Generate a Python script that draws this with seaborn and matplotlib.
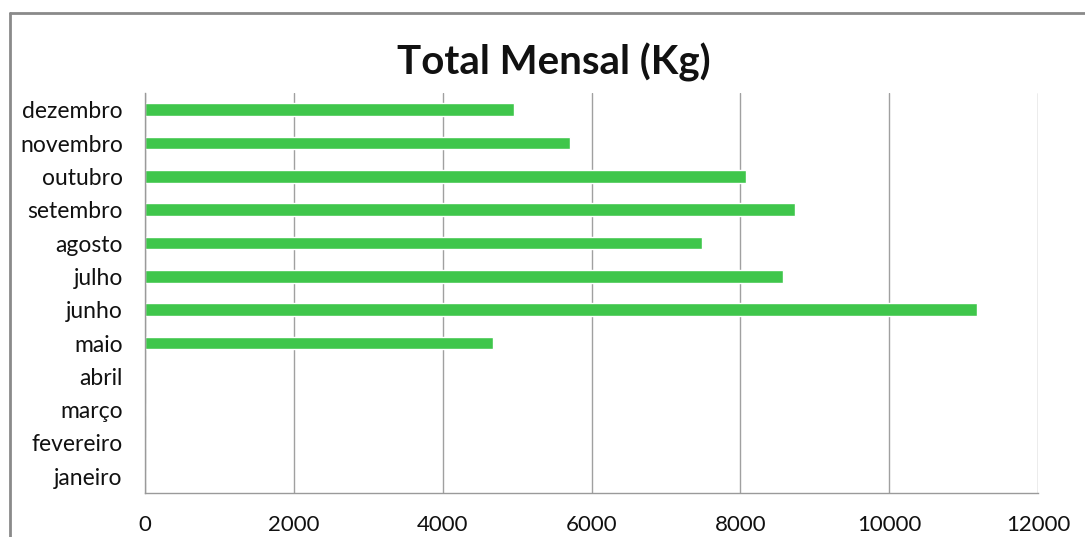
import matplotlib
matplotlib.use("Agg")
import matplotlib.pyplot as plt
import seaborn as sns
import pandas as pd
from matplotlib.ticker import FixedLocator
from matplotlib.lines import Line2D

months = ["janeiro", "fevereiro", "março", "abril", "maio", "junho",
          "julho", "agosto", "setembro", "outubro", "novembro", "dezembro"]
totals = [0, 0, 0, 0, 4670, 11180, 8580, 7480, 8740, 8080, 5710, 4960]
x_ticks = [0, 2000, 4000, 6000, 8000, 10000, 12000]

df = pd.DataFrame({"mes": months, "total": totals})

sns.set_theme(style="white")
plt.rcParams["font.family"] = ["Lato", "DejaVu Sans"]

fig = plt.figure(figsize=(10.85, 5.37), dpi=100)
ax = fig.add_axes([145/1085, 1 - 493/537, (1038 - 145)/1085, (493 - 93)/537])

sns.barplot(data=df, x="total", y="mes", order=months[::-1], orient="h",
            color="#3fc64b", saturation=1, width=0.38, ax=ax)

ax.set_xlim(0, 12000)
ax.set_ylim(11.5, -0.5)
ax.xaxis.set_major_locator(FixedLocator(x_ticks))
ax.set_xticklabels([str(t) for t in x_ticks])
ax.grid(axis="x", color="#a0a0a0", linewidth=1)
ax.set_axisbelow(True)
ax.set_xlabel("")
ax.set_ylabel("")

for s in ["top", "right"]:
    ax.spines[s].set_visible(False)
for s in ["left", "bottom"]:
    ax.spines[s].set_color("#9a9a9a")
    ax.spines[s].set_linewidth(1)

ax.tick_params(axis="y", which="major", length=0, pad=16, labelsize=16.5, labelcolor="#111111")
ax.yaxis.set_minor_locator(FixedLocator([i + 0.5 for i in range(-1, 12)]))
ax.tick_params(axis="y", which="minor", length=5, color="#9a9a9a", width=1)
ax.tick_params(axis="x", which="major", length=5, color="#9a9a9a", width=1,
               pad=11, labelsize=16, labelcolor="#111111")

fig.text(0.51, 1 - 62/537, "Total Mensal (Kg)", ha="center", va="center",
         fontsize=29, fontweight="bold", color="#111111")

# scanned border (top and left)
fig.add_artist(Line2D([10/1085, 1.0], [1 - 13/537, 1 - 13/537],
                      transform=fig.transFigure, color="#8a8a8a", linewidth=2))
fig.add_artist(Line2D([10/1085, 10/1085], [0.0, 1 - 13/537],
                      transform=fig.transFigure, color="#8a8a8a", linewidth=2))

fig.savefig("out.png", dpi=100)
